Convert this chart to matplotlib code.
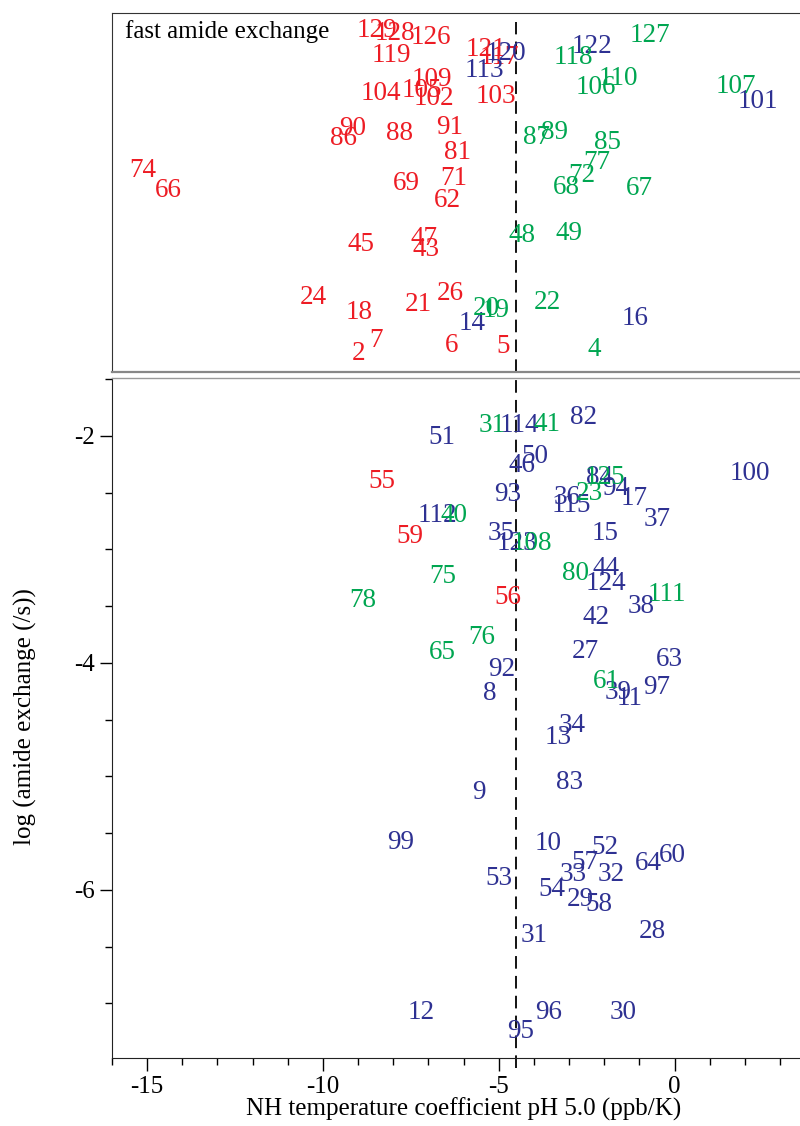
import matplotlib.pyplot as plt
from matplotlib.ticker import MultipleLocator

plt.rcParams['font.family'] = ['Liberation Serif', 'DejaVu Serif']
plt.rcParams['axes.unicode_minus'] = False

RED = '#ED1C24'
GREEN = '#00A651'
BLUE = '#2E3192'

# top panel: fast amide exchange (no measurable rate), y is just a spread position
top_red_res = [129, 128, 126, 119, 104, 105, 109, 102, 121, 117, 103, 90, 86, 88, 91, 81,
               71, 69, 62, 74, 66, 45, 47, 43, 24, 18, 21, 26, 2, 7, 6, 5]
top_red_x = [-8.46, -7.95, -6.92, -8.06, -8.35, -7.18, -6.89, -6.84, -5.36, -4.99, -5.07,
             -9.15, -9.43, -7.83, -6.41, -6.18, -6.27, -7.64, -6.47, -15.13, -14.39,
             -8.92, -7.12, -7.07, -10.28, -8.97, -7.29, -6.38, -9.0, -8.49, -6.35, -4.87]
top_red_y = [34.2, 33.9, 33.5, 31.7, 27.9, 28.2, 29.3, 27.4, 32.3, 31.5, 27.6, 24.4, 23.4,
             23.9, 24.5, 22.0, 19.4, 18.9, 17.2, 20.2, 18.2, 12.8, 13.4, 12.3, 7.5, 6.0,
             6.8, 7.9, 1.9, 3.2, 2.7, 2.6]

top_blue_res = [113, 120, 122, 101, 14, 16]
top_blue_x = [-5.41, -4.81, -2.34, 2.36, -5.75, -1.11]
top_blue_y = [30.2, 31.9, 32.6, 27.1, 4.9, 5.4]

top_green_res = [127, 118, 110, 106, 107, 87, 89, 85, 77, 72, 68, 67, 48, 49, 20, 19, 22, 4]
top_green_x = [-0.71, -2.88, -1.60, -2.25, 1.74, -3.93, -3.42, -1.91, -2.22, -2.65, -3.08,
               -1.0, -4.33, -2.99, -5.36, -5.07, -3.62, -2.28]
top_green_y = [33.7, 31.5, 29.4, 28.5, 28.6, 23.5, 24.0, 23.0, 21.0, 19.7, 18.5, 18.4,
               13.7, 13.9, 6.4, 6.2, 7.0, 2.3]

# bottom panel: log(amide exchange) vs NH temperature coefficient
bot_blue_res = [51, 114, 82, 50, 46, 93, 35, 123, 100, 84, 36, 115, 94, 17, 37, 15, 44, 124,
                38, 42, 27, 63, 39, 11, 97, 92, 8, 34, 13, 83, 9, 99, 10, 52, 57, 60, 64,
                33, 32, 53, 54, 29, 58, 28, 31, 12, 96, 30, 95, 112]
bot_blue_x = [-6.61, -4.42, -2.59, -3.96, -4.33, -4.76, -4.93, -4.47, 2.14, -2.14, -3.05,
              -2.93, -1.68, -1.14, -0.51, -1.97, -1.94, -1.94, -0.94, -2.22, -2.54, -0.14,
              -1.60, -1.28, -0.51, -4.93, -5.27, -2.91, -3.30, -2.99, -5.56, -7.78, -3.59,
              -1.99, -2.56, -0.06, -0.74, -2.88, -1.79, -5.01, -3.50, -2.68, -2.14, -0.63,
              -3.99, -7.21, -3.59, -1.45, -4.39, -6.75]
bot_blue_y = [-2.01, -1.91, -1.84, -2.18, -2.26, -2.52, -2.86, -2.95, -2.33, -2.37, -2.54,
              -2.61, -2.46, -2.55, -2.74, -2.86, -3.17, -3.30, -3.50, -3.60, -3.90, -3.97,
              -4.26, -4.31, -4.22, -4.06, -4.27, -4.55, -4.66, -5.05, -5.14, -5.58, -5.59,
              -5.63, -5.76, -5.70, -5.77, -5.86, -5.86, -5.90, -6.00, -6.08, -6.13, -6.37,
              -6.40, -7.08, -7.08, -7.08, -7.25, -2.70]

bot_green_res = [31, 41, 125, 23, 40, 108, 80, 111, 75, 78, 76, 65, 61]
bot_green_x = [-5.19, -3.62, -1.99, -2.42, -6.27, -4.05, -2.82, -0.23, -6.58, -8.86, -5.47,
               -6.61, -1.94]
bot_green_y = [-1.91, -1.90, -2.37, -2.51, -2.70, -2.95, -3.21, -3.40, -3.24, -3.45, -3.78,
               -3.91, -4.16]

bot_red_res = [55, 59, 56]
bot_red_x = [-8.32, -7.52, -4.73]
bot_red_y = [-2.40, -2.89, -3.42]

cutoff = -4.5
label_size = 19.5

fig = plt.figure(figsize=(8, 11.26), dpi=100)
ax_top = fig.add_axes([0.14, 0.6696, 0.879, 0.3188])
ax_bot = fig.add_axes([0.14, 0.0604, 0.879, 0.6039])


def put_labels(ax, res, xs, ys, color):
    for r, x, y in zip(res, xs, ys):
        ax.text(x, y, str(r), color=color, ha='center', va='center', fontsize=label_size)


put_labels(ax_top, top_red_res, top_red_x, top_red_y, RED)
put_labels(ax_top, top_blue_res, top_blue_x, top_blue_y, BLUE)
put_labels(ax_top, top_green_res, top_green_x, top_green_y, GREEN)
put_labels(ax_bot, bot_blue_res, bot_blue_x, bot_blue_y, BLUE)
put_labels(ax_bot, bot_green_res, bot_green_x, bot_green_y, GREEN)
put_labels(ax_bot, bot_red_res, bot_red_x, bot_red_y, RED)

for ax in (ax_top, ax_bot):
    ax.set_xlim(-16, 4)
    ax.spines['right'].set_visible(False)

# dashed cut-off line through both panels
ax_top.axvline(cutoff, ymax=0.975, color='black', lw=1.3, linestyle=(0, (7, 4)))
ax_bot.axvline(cutoff, ymin=-0.015, color='black', lw=1.3, linestyle=(0, (7, 4)),
               clip_on=False)

# top panel
ax_top.set_ylim(0, 35.9)
ax_top.set_xticks([])
ax_top.set_yticks([])
ax_top.spines['bottom'].set_color('#888888')
ax_top.spines['bottom'].set_linewidth(1.6)
ax_top.spines['top'].set_color('#333333')
ax_top.spines['left'].set_color('#333333')
ax_top.text(0.018, 0.95, 'fast amide exchange', transform=ax_top.transAxes,
            ha='left', va='center', fontsize=18)

# bottom panel
ax_bot.set_ylim(-7.48, -1.49)
ax_bot.set_xticks([-15, -10, -5, 0])
ax_bot.set_yticks([-2, -4, -6])
ax_bot.xaxis.set_minor_locator(MultipleLocator(1))
ax_bot.yaxis.set_minor_locator(MultipleLocator(0.5))
ax_bot.tick_params(which='major', length=9, width=1, labelsize=18, direction='out')
ax_bot.tick_params(which='minor', length=5, width=1, direction='out')
ax_bot.tick_params(axis='x', which='major', pad=4)
ax_bot.spines['top'].set_color('#999999')
ax_bot.spines['top'].set_linewidth(1)
ax_bot.spines['left'].set_color('#222222')
ax_bot.spines['bottom'].set_color('#222222')
ax_bot.set_xlabel('NH temperature coefficient pH 5.0 (ppb/K)', fontsize=18, labelpad=0)
fig.text(25 / 800, 1 - 717 / 1126, 'log (amide exchange (/s))', rotation=90,
         ha='center', va='center', fontsize=18)

fig.savefig('out.png', dpi=100)
